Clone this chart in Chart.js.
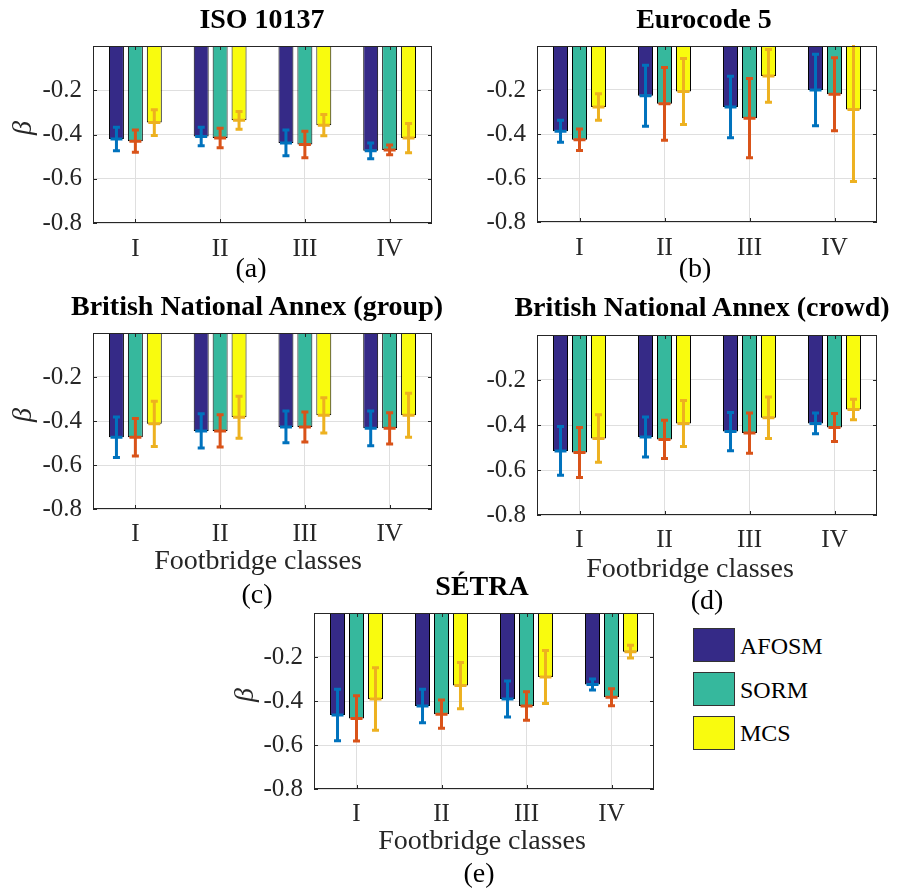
<!DOCTYPE html>
<html>
<head>
<meta charset="utf-8">
<script src="https://cdn.jsdelivr.net/npm/chart.js@4.4.0/dist/chart.umd.min.js"></script>
<style>
  body { margin: 0; background: #fff; }
  #fig { position: relative; width: 898px; height: 890px; overflow: hidden; font-family: 'Liberation Serif', 'Times New Roman', serif; color: #000; }
  #fig canvas { position: absolute; }
  .txt { position: absolute; transform: translate(-50%, -50%); white-space: nowrap; line-height: 1; }
  .title { font-weight: bold; font-size: 28px; }
  .xlab { font-size: 28px; color: #262626; }
  .sub { font-size: 28px; }
  .beta { font-size: 28px; font-style: italic; color: #262626; transform: translate(-50%, -50%) rotate(-90deg); }
  .key { position: absolute; width: 40px; height: 32px; border: 1px solid #333; }
  .keytxt { position: absolute; font-size: 24px; line-height: 1; transform: translateY(-50%); }
</style>
</head>
<body>
<div id="fig">
  <canvas id="pa"></canvas>
  <canvas id="pb"></canvas>
  <canvas id="pc"></canvas>
  <canvas id="pd"></canvas>
  <canvas id="pe"></canvas>

  <div class="txt title" style="left:262px;top:19px">ISO 10137</div>
  <div class="txt title" style="left:704px;top:19px">Eurocode 5</div>
  <div class="txt title" style="left:257px;top:306px">British National Annex (group)</div>
  <div class="txt title" style="left:702px;top:307px">British National Annex (crowd)</div>
  <div class="txt title" style="left:482px;top:586px">SÉTRA</div>

  <div class="txt xlab" style="left:258px;top:560px">Footbridge classes</div>
  <div class="txt xlab" style="left:690px;top:568px">Footbridge classes</div>
  <div class="txt xlab" style="left:482px;top:840px">Footbridge classes</div>

  <div class="txt sub" style="left:251px;top:268px">(a)</div>
  <div class="txt sub" style="left:695px;top:268px">(b)</div>
  <div class="txt sub" style="left:257px;top:594px">(c)</div>
  <div class="txt sub" style="left:707px;top:600px">(d)</div>
  <div class="txt sub" style="left:479px;top:873px">(e)</div>

  <div class="txt beta" style="left:22px;top:128px">β</div>
  <div class="txt beta" style="left:22px;top:415px">β</div>
  <div class="txt beta" style="left:244px;top:695px">β</div>

  <div class="key" style="left:693px;top:628px;background:#352A87"></div>
  <div class="keytxt" style="left:740px;top:646px">AFOSM</div>
  <div class="key" style="left:693px;top:672px;background:#36B89D"></div>
  <div class="keytxt" style="left:740px;top:690px">SORM</div>
  <div class="key" style="left:693px;top:716px;background:#F9FB0E"></div>
  <div class="keytxt" style="left:740px;top:733px">MCS</div>
</div>

<script>
// categories and methods
const classes = ['I', 'II', 'III', 'IV'];
const methods = ['AFOSM', 'SORM', 'MCS'];

// ISO 10137
const isoAfosm = [-0.420, -0.409, -0.438, -0.474];
const isoSorm  = [-0.430, -0.416, -0.445, -0.470];
const isoMcs   = [-0.346, -0.336, -0.358, -0.416];
const isoAfosmErr = [0.053, 0.042, 0.058, 0.036];
const isoSormErr  = [0.050, 0.044, 0.060, 0.022];
const isoMcsErr   = [0.058, 0.040, 0.048, 0.066];

// Eurocode 5
const ecAfosm = [-0.387, -0.226, -0.277, -0.200];
const ecSorm  = [-0.426, -0.263, -0.328, -0.219];
const ecMcs   = [-0.277, -0.207, -0.136, -0.289];
const ecAfosmErr = [0.050, 0.139, 0.140, 0.163];
const ecSormErr  = [0.049, 0.165, 0.180, 0.166];
const ecMcsErr   = [0.060, 0.150, 0.120, 0.327];

// British National Annex (group)
const bnaGroupAfosm = [-0.474, -0.445, -0.427, -0.433];
const bnaGroupSorm  = [-0.474, -0.445, -0.427, -0.433];
const bnaGroupMcs   = [-0.413, -0.383, -0.374, -0.374];
const bnaGroupAfosmErr = [0.092, 0.078, 0.072, 0.079];
const bnaGroupSormErr  = [0.085, 0.073, 0.068, 0.071];
const bnaGroupMcsErr   = [0.103, 0.095, 0.080, 0.100];

// British National Annex (crowd)
const bnaCrowdAfosm = [-0.515, -0.453, -0.429, -0.393];
const bnaCrowdSorm  = [-0.522, -0.464, -0.436, -0.411];
const bnaCrowdMcs   = [-0.460, -0.393, -0.368, -0.331];
const bnaCrowdAfosmErr = [0.108, 0.089, 0.085, 0.046];
const bnaCrowdSormErr  = [0.111, 0.085, 0.089, 0.062];
const bnaCrowdMcsErr   = [0.106, 0.102, 0.092, 0.046];

// SETRA
const setraAfosm = [-0.464, -0.423, -0.391, -0.325];
const setraSorm  = [-0.479, -0.460, -0.423, -0.383];
const setraMcs   = [-0.391, -0.330, -0.291, -0.176];
const setraAfosmErr = [0.117, 0.076, 0.082, 0.025];
const setraSormErr  = [0.103, 0.064, 0.065, 0.039];
const setraMcsErr   = [0.142, 0.105, 0.120, 0.029];

const barColors = ['#352A87', '#36B89D', '#F9FB0E'];
const errColors = ['#0072BD', '#D95319', '#EDB120'];

// plot rectangles (left, top, width, height) of each axes
const panels = [
    { id: 'pa', rect: [93, 40, 339, 183], tickPad: 11.5,
      values: [isoAfosm, isoSorm, isoMcs], errors: [isoAfosmErr, isoSormErr, isoMcsErr] },
    { id: 'pb', rect: [537, 40, 340, 182], tickPad: 11.5,
      values: [ecAfosm, ecSorm, ecMcs], errors: [ecAfosmErr, ecSormErr, ecMcsErr] },
    { id: 'pc', rect: [93, 327, 339, 182], tickPad: 10.5,
      values: [bnaGroupAfosm, bnaGroupSorm, bnaGroupMcs], errors: [bnaGroupAfosmErr, bnaGroupSormErr, bnaGroupMcsErr] },
    { id: 'pd', rect: [537, 329, 340, 186], tickPad: 10,
      values: [bnaCrowdAfosm, bnaCrowdSorm, bnaCrowdMcs], errors: [bnaCrowdAfosmErr, bnaCrowdSormErr, bnaCrowdMcsErr] },
    { id: 'pe', rect: [314, 607, 340, 182], tickPad: 10.5,
      values: [setraAfosm, setraSorm, setraMcs], errors: [setraAfosmErr, setraSormErr, setraMcsErr] }
];

const Y_AXIS_W = 90, X_AXIS_H = 45, PAD_TOP = 20, PAD_RIGHT = 10;

// symmetric error bars with caps and a '+' marker at the mean
const errorBars = {
    id: 'errorBars',
    afterDatasetsDraw(chart) {
        const { ctx, chartArea, scales: { y } } = chart;
        ctx.save();
        ctx.beginPath();
        ctx.rect(chartArea.left, chartArea.top - 1, chartArea.width, chartArea.height + 2);
        ctx.clip();
        ctx.lineWidth = 3;
        chart.data.datasets.forEach((ds, i) => {
            const meta = chart.getDatasetMeta(i);
            ctx.strokeStyle = ds.errorColor;
            meta.data.forEach((bar, j) => {
                const v = ds.data[j], e = ds.errors[j];
                const x = bar.x;
                const yHi = y.getPixelForValue(v + e);
                const yLo = y.getPixelForValue(v - e);
                const yMid = y.getPixelForValue(v);
                ctx.beginPath();
                ctx.moveTo(x, yHi); ctx.lineTo(x, yLo);
                ctx.moveTo(x - 3.5, yHi); ctx.lineTo(x + 3.5, yHi);
                ctx.moveTo(x - 3.5, yLo); ctx.lineTo(x + 3.5, yLo);
                ctx.moveTo(x - 6, yMid); ctx.lineTo(x + 6, yMid);
                ctx.stroke();
            });
        });
        ctx.restore();
    }
};

// axes box with inward tick marks, like MATLAB's "box on"
const axesBox = {
    id: 'axesBox',
    afterDraw(chart) {
        const { ctx, chartArea: a, scales: { x, y } } = chart;
        ctx.save();
        ctx.strokeStyle = '#262626';
        ctx.lineWidth = 1;
        ctx.strokeRect(a.left + 0.5, a.top + 0.5, a.width - 1, a.height - 1);
        ctx.beginPath();
        y.ticks.forEach(t => {
            const py = Math.round(y.getPixelForValue(t.value)) + 0.5;
            ctx.moveTo(a.left, py); ctx.lineTo(a.left + 4, py);
            ctx.moveTo(a.right, py); ctx.lineTo(a.right - 4, py);
        });
        classes.forEach((c, k) => {
            const px = Math.round(x.getPixelForTick(k)) + 0.5;
            ctx.moveTo(px, a.bottom); ctx.lineTo(px, a.bottom - 4);
            ctx.moveTo(px, a.top); ctx.lineTo(px, a.top + 4);
        });
        ctx.stroke();
        ctx.restore();
    }
};

const tickFont = { family: 'Liberation Serif', size: 25 };

panels.forEach(p => {
    const [L, T, W, H] = p.rect;
    const canvas = document.getElementById(p.id);
    canvas.width = W + Y_AXIS_W + PAD_RIGHT;
    canvas.height = H + PAD_TOP + X_AXIS_H;
    canvas.style.left = (L - Y_AXIS_W) + 'px';
    canvas.style.top = (T - PAD_TOP) + 'px';

    new Chart(canvas, {
        type: 'bar',
        data: {
            labels: classes,
            datasets: methods.map((m, k) => ({
                label: m,
                data: p.values[k],
                errors: p.errors[k],
                errorColor: errColors[k],
                backgroundColor: barColors[k],
                borderColor: '#000',
                borderWidth: 1,
                categoryPercentage: 0.67,
                barPercentage: 0.79
            }))
        },
        options: {
            responsive: false,
            animation: false,
            devicePixelRatio: 1,
            layout: { padding: { top: PAD_TOP, right: PAD_RIGHT, left: 0, bottom: 0 } },
            plugins: { legend: { display: false }, tooltip: { enabled: false } },
            scales: {
                x: {
                    grid: { offset: false, color: '#dfdfdf', drawTicks: false },
                    border: { display: false },
                    ticks: { padding: p.tickPad, color: '#262626', font: tickFont, maxRotation: 0 },
                    afterFit(s) { s.height = X_AXIS_H; }
                },
                y: {
                    min: -0.8,
                    max: 0,
                    grid: { color: '#dfdfdf', drawTicks: false },
                    border: { display: false },
                    ticks: {
                        stepSize: 0.2,
                        padding: 11,
                        color: '#262626',
                        font: tickFont,
                        callback: v => Math.abs(v) < 1e-9 ? '' : v.toFixed(1)
                    },
                    afterFit(s) { s.width = Y_AXIS_W; }
                }
            }
        },
        plugins: [errorBars, axesBox]
    });
});
</script>
</body>
</html>
